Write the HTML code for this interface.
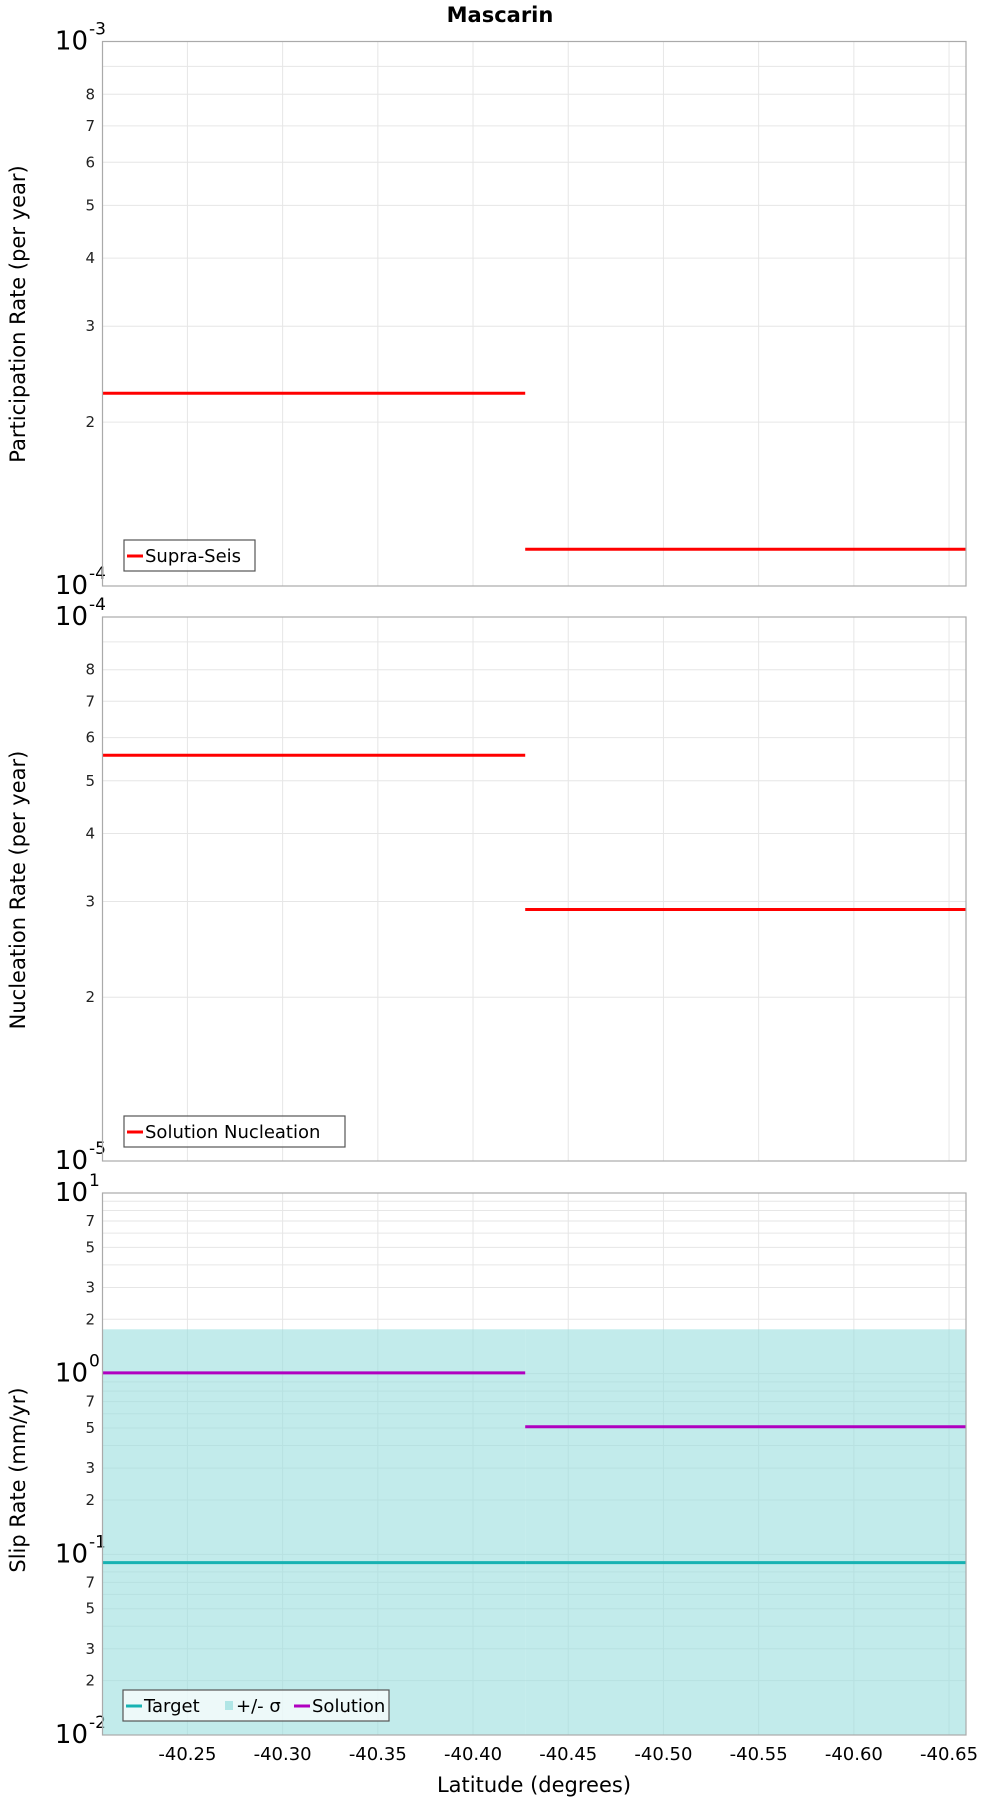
<!DOCTYPE html>
<html><head><meta charset="utf-8"><style>
html,body{margin:0;padding:0;background:#fff;}
svg{display:block;font-family:"DejaVu Sans","Liberation Sans",sans-serif;}
</style></head><body>
<svg id="chart" width="1000" height="1800" xmlns="http://www.w3.org/2000/svg">
<text x="500" y="22" text-anchor="middle" font-size="21" font-weight="bold">Mascarin</text>
<text x="534" y="1792" text-anchor="middle" font-size="21">Latitude (degrees)</text>
</svg>
<script>
const xTicks = [-40.25,-40.30,-40.35,-40.40,-40.45,-40.50,-40.55,-40.60,-40.65];
const segStart = [-40.2054,-40.4274];
const segEnd = [-40.4274,-40.6589];
const segMid = [-40.313,-40.5445];
const participation = [2.26e-4,1.168e-4];
const nucleation = [5.57e-5,2.90e-5];
const slipTarget = [0.09,0.09];
const slipUpper = [1.76,1.76];
const slipSolution = [1.01,0.508];

const NS='http://www.w3.org/2000/svg';
const svg=document.getElementById('chart');
const L=102.5,R=966;
const X0=-40.2054,X1=-40.6589;
function xs(v){return L+(v-X0)/(X1-X0)*(R-L);}
function mk(tag,attrs,parent){const e=document.createElementNS(NS,tag);for(const k in attrs)e.setAttribute(k,attrs[k]);(parent||svg).appendChild(e);return e;}

function panel(name,top,bot,d0,d1,minorLabels,title,titleY){
  const g=mk('g',{});
  
  
  const ys=v=>bot-(Math.log10(v)-d0)/(d1-d0)*(bot-top);
  // grid vertical
  xTicks.forEach(t=>{const l=mk('line',{x1:xs(t),x2:xs(t),y1:top,y2:bot,stroke:'#e6e6e6','stroke-width':1},g);
    
    });
  for(let d=d0;d<d1;d++){for(let m=1;m<=9;m++){const v=m*Math.pow(10,d);const y=ys(v);
    const l=mk('line',{x1:L,x2:R,y1:y,y2:y,stroke:'#e6e6e6','stroke-width':1},g);
    
    
    if(m>1&&minorLabels.includes(m)){const t=mk('text',{x:95,y:y+5,'text-anchor':'end','font-size':15,fill:'#222'},g);t.textContent=m;
      
      }
  }}
  for(let d=d0;d<=d1;d++){const y=ys(Math.pow(10,d));
    const t=mk('text',{x:88,y:y+8,'text-anchor':'end','font-size':26},g);t.textContent='10';
    
    
    const s=mk('text',{x:89,y:y-7,'font-size':17},g);s.textContent=String(d);
    
    }
  const tt=mk('text',{x:0,y:0,'text-anchor':'middle','font-size':21,transform:`translate(25,${titleY}) rotate(-90)`},g);tt.textContent=title;
  
  
  return {g,ys};
}
function frame(g,top,bot){const r=mk('rect',{x:L,y:top,width:R-L,height:bot-top,fill:'none',stroke:'#aaa','stroke-width':1.2},g);
  
  }
function steps(g,vals,ys,color,name){vals.forEach((v,i)=>{const y=ys(v);
  const l=mk('line',{x1:xs(segStart[i]),x2:xs(segEnd[i]),y1:y,y2:y,stroke:color,'stroke-width':3},g);
  
  });}
function legend(g,x,y,w,items){const lg=mk('g',{},g);
  
  
  mk('rect',{x:x,y:y,width:w,height:31,fill:'rgba(255,255,255,0.7)',stroke:'#555','stroke-width':1.2},lg);
  let cx=x+3;items.forEach(it=>{
    if(it.box){mk('rect',{x:cx+1,y:y+11,width:8,height:9,fill:it.color},lg);cx+=12;}
    else{mk('line',{x1:cx,x2:cx+16,y1:y+16,y2:y+16,stroke:it.color,'stroke-width':3},lg);cx+=18;}
    const t=mk('text',{x:cx,y:y+22,'font-size':18},lg);t.textContent=it.label;
    
    
    cx+=it.w;});}

// Panel 1
let p=panel('participation-panel',41.5,586,-4,-3,[2,3,4,5,6,7,8],'Participation Rate (per year)',314);
steps(p.g,participation,p.ys,'#ff0000','participation');
frame(p.g,41.5,586);
legend(p.g,124,540,131,[{color:'#ff0000',label:'Supra-Seis',w:110}]);

// Panel 2
p=panel('nucleation-panel',617,1161,-5,-4,[2,3,4,5,6,7,8],'Nucleation Rate (per year)',890);
steps(p.g,nucleation,p.ys,'#ff0000','nucleation');
frame(p.g,617,1161);
legend(p.g,124,1116,221,[{color:'#ff0000',label:'Solution Nucleation',w:200}]);

// Panel 3
const top3=1193,bot3=1735;
p=panel('slip-rate-panel',top3,bot3,-2,1,[2,3,5,7],'Slip Rate (mm/yr)',1480);
slipUpper.forEach((v,i)=>{const y=p.ys(v);
  const r=mk('rect',{x:xs(segStart[i]),y:y,width:xs(segEnd[i])-xs(segStart[i]),height:bot3-y,fill:'rgba(150,220,220,0.58)'},p.g);
  
  });
steps(p.g,slipTarget,p.ys,'#17b2b2','target');
steps(p.g,slipSolution,p.ys,'#b000c0','solution');
frame(p.g,top3,bot3);
legend(p.g,123,1690,266,[{color:'#17b2b2',label:'Target',w:80},{color:'#b0e6e6',label:'+/- σ',w:58,box:true},{color:'#b000c0',label:'Solution',w:80}]);

// x ticks
xTicks.forEach(t=>{const e=mk('text',{x:xs(t),y:1760,'text-anchor':'middle','font-size':18});e.textContent=t.toFixed(2);
  
  });
</script>
</body></html>
